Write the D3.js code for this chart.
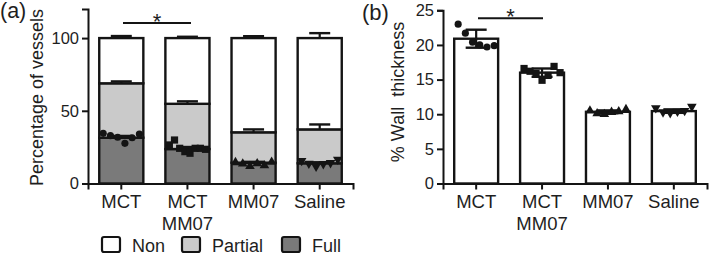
<!DOCTYPE html>
<html>
<head>
<meta charset="utf-8">
<script src="https://cdn.jsdelivr.net/npm/d3@7"></script>
<style>
  body { margin: 0; background: #fff; }
  svg { display: block; font-family: "Liberation Sans", Arial, sans-serif; }
  text { fill: #1e1e1e; }
</style>
</head>
<body>
<script>
// groups on the x axis (multi-line labels)
const groups = ["MCT", "MCT MM07", "MM07", "Saline"];
const groupLines = [["MCT"], ["MCT", "MM07"], ["MM07"], ["Saline"]];

// panel (a): stacked percentage of vessels
const stackKeys = ["Full", "Partial", "Non"];
const fullMean = [31.5, 23.7, 14.3, 13.9];
const partialMean = [37.4, 31.1, 20.9, 23.3];
const nonMean = [31.1, 45.2, 64.8, 62.8];
const fullErr = [1.2, 1.4, 0.6, 0.7];
const partialErr = [1.3, 1.7, 2.0, 3.4];
const nonErr = [1.4, 0.9, 1.3, 3.4];
const fullPoints = [
  [34.5, 32.9, 31.8, 27.6, 31.5, 34.0],
  [26.5, 29.9, 24.2, 21.9, 20.8, 24.2, 24.2, 23.5],
  [14.5, 13.6, 11.8, 13.8, 12.4, 14.8],
  [15.7, 13.8, 11.7, 13.5, 14.2, 16.5]
];

// panel (b): % wall thickness
const wallMean = [20.9, 16.0, 10.35, 10.45];
const wallErr = [1.3, 0.6, 0.2, 0.25];
const wallPoints = [
  [23.0, 21.7, 20.4, 20.0, 19.7, 19.9],
  [16.6, 16.2, 15.9, 14.9, 15.6, 16.9, 16.0],
  [10.5, 10.1, 10.0, 10.3, 10.4, 10.7],
  [10.9, 10.3, 10.2, 10.4, 10.5, 11.1]
];

const stackFill = {Full: "#7a7a7a", Partial: "#cacaca", Non: "#ffffff"};
const symbols = [d3.symbolCircle, d3.symbolSquare, d3.symbolTriangle, d3.symbolTriangle];
const symbolSize = [40, 52, 40, 40];
const symbolRotate = [0, 0, 0, 180];

const width = 709, height = 255;
const ink = "#141414";

const svg = d3.select("body").append("svg")
  .attr("width", width)
  .attr("height", height)
  .attr("viewBox", [0, 0, width, height]);

// spread points across the bar, like a jittered column scatter
function spreadX(x, bw, n, i) {
  const span = bw * 0.82;
  return x + bw / 2 - span / 2 + (n === 1 ? span / 2 : span * i / (n - 1));
}

function drawAxes(g, x, y, yTicks) {
  g.append("g")
    .attr("transform", `translate(0,${y.range()[0]})`)
    .call(d3.axisBottom(x).tickSizeOuter(0).tickSize(6))
    .call(a => a.selectAll("path, line").attr("stroke", ink).attr("stroke-width", 2))
    .call(a => a.selectAll(".tick text").remove())
    .call(a => a.selectAll(".tick").each(function(d, i) {
      const t = d3.select(this).append("text")
        .attr("fill", "#1e1e1e")
        .attr("font-size", 18.5)
        .attr("text-anchor", "middle");
      groupLines[i].forEach((s, k) => t.append("tspan").attr("x", 0).attr("y", 24.5 + k * 22).text(s));
    }));

  g.append("g")
    .attr("transform", `translate(${x.range()[0]},0)`)
    .call(d3.axisLeft(y).tickValues(yTicks).tickSizeOuter(0).tickSize(6).tickPadding(3))
    .call(a => a.selectAll("path, line").attr("stroke", ink).attr("stroke-width", 2))
    .call(a => a.selectAll(".tick text").attr("font-size", 16.5).attr("fill", "#1e1e1e").attr("font-family", null));
}

function drawPoints(g, x, y, pts) {
  pts.forEach((vals, i) => {
    const sym = d3.symbol(symbols[i], symbolSize[i]);
    g.append("g").selectAll("path")
      .data(vals)
      .join("path")
      .attr("d", sym)
      .attr("fill", ink)
      .attr("transform", (v, k) =>
        `translate(${spreadX(x(groups[i]), x.bandwidth(), vals.length, k)},${y(v)}) rotate(${symbolRotate[i]})`);
  });
}

function errorBar(g, cx, yTop, yFrom, cap) {
  g.append("line").attr("x1", cx).attr("x2", cx).attr("y1", yFrom).attr("y2", yTop)
    .attr("stroke", ink).attr("stroke-width", 2.2);
  g.append("line").attr("x1", cx - cap / 2).attr("x2", cx + cap / 2).attr("y1", yTop).attr("y2", yTop)
    .attr("stroke", ink).attr("stroke-width", 2.4);
}

function sigMark(g, x1, x2, yLine, yStar) {
  g.append("line").attr("x1", x1).attr("x2", x2).attr("y1", yLine).attr("y2", yLine)
    .attr("stroke", ink).attr("stroke-width", 2);
  g.append("text").attr("x", (x1 + x2) / 2).attr("y", yStar)
    .attr("text-anchor", "middle").attr("font-size", 22).text("*");
}

// ---------- panel (a) ----------
{
  const g = svg.append("g");
  const x = d3.scaleBand().domain(groups).range([88, 353]).paddingInner(1 / 3).paddingOuter(0.17);
  const y = d3.scaleLinear().domain([0, 120]).range([183.5, 9]);

  const table = groups.map((k, i) => ({group: k, Full: fullMean[i], Partial: partialMean[i], Non: nonMean[i], i}));
  const errs = {Full: fullErr, Partial: partialErr, Non: nonErr};
  const series = d3.stack().keys(stackKeys)(table);

  g.append("g").selectAll("g")
    .data(series)
    .join("g")
    .attr("fill", s => stackFill[s.key])
    .selectAll("rect")
    .data(s => s)
    .join("rect")
    .attr("x", d => x(d.data.group))
    .attr("y", d => y(d[1]))
    .attr("width", x.bandwidth())
    .attr("height", d => y(d[0]) - y(d[1]))
    .attr("stroke", ink)
    .attr("stroke-width", 2.4);

  // upper error bars on each stacked segment
  const eg = g.append("g");
  series.forEach(s => s.forEach(d => {
    const cx = x(d.data.group) + x.bandwidth() / 2;
    errorBar(eg, cx, y(d[1] + errs[s.key][d.data.i]), y(d[1]), 21);
  }));

  drawPoints(g, x, y, fullPoints);
  drawAxes(g, x, y, [0, 50, 100]);

  sigMark(g, 123, 191, 23, 29);

  g.append("text").attr("transform", "translate(42.5,97.5) rotate(-90)")
    .attr("text-anchor", "middle").attr("font-size", 18).text("Percentage of vessels");
  g.append("text").attr("x", 0).attr("y", 17.5).attr("font-size", 21.5).text("(a)");

  // legend
  const leg = g.append("g").selectAll("g")
    .data(["Non", "Partial", "Full"])
    .join("g")
    .attr("transform", (d, i) => `translate(${[102, 182, 282][i]},237)`);
  leg.append("rect").attr("width", 18).attr("height", 15).attr("rx", 2)
    .attr("fill", d => stackFill[d]).attr("stroke", ink).attr("stroke-width", 2.2);
  leg.append("text").attr("x", 30).attr("y", 14.5).attr("font-size", 18).text(d => d);
}

// ---------- panel (b) ----------
{
  const g = svg.append("g");
  const x = d3.scaleBand().domain(groups).range([443, 707]).paddingInner(1 / 3).paddingOuter(0.17);
  const y = d3.scaleLinear().domain([0, 25]).range([183.5, 10.3]);

  g.append("g").selectAll("rect")
    .data(groups)
    .join("rect")
    .attr("x", d => x(d))
    .attr("y", (d, i) => y(wallMean[i]))
    .attr("width", x.bandwidth())
    .attr("height", (d, i) => y(0) - y(wallMean[i]))
    .attr("fill", "#fff")
    .attr("stroke", ink)
    .attr("stroke-width", 2.4);

  const eg = g.append("g");
  groups.forEach((k, i) => {
    const cx = x(k) + x.bandwidth() / 2;
    errorBar(eg, cx, y(wallMean[i] + wallErr[i]), y(wallMean[i] - wallErr[i]), 21);
    eg.append("line").attr("x1", cx - 10.5).attr("x2", cx + 10.5)
      .attr("y1", y(wallMean[i] - wallErr[i])).attr("y2", y(wallMean[i] - wallErr[i]))
      .attr("stroke", ink).attr("stroke-width", 2.4);
  });

  drawPoints(g, x, y, wallPoints);
  drawAxes(g, x, y, [0, 5, 10, 15, 20, 25]);

  sigMark(g, 478, 543, 18.3, 24);

  g.append("text").attr("transform", "translate(404,92) rotate(-90)")
    .attr("text-anchor", "middle").attr("font-size", 18)
    .style("white-space", "pre").text("% Wall  thickness");
  g.append("text").attr("x", 362).attr("y", 19.5).attr("font-size", 22).text("(b)");
}
</script>
</body>
</html>
